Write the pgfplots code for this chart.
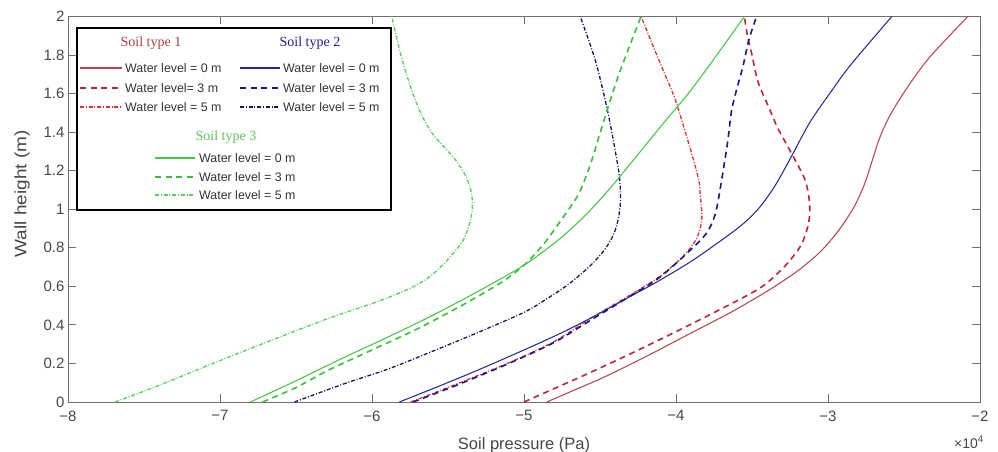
\documentclass[border=0pt]{standalone}
\usepackage{pgfplots}
\pgfplotsset{compat=1.18}
\usepackage{fontspec}
\setmainfont{Liberation Sans}
\newfontfamily\titlefont{Liberation Serif}
\newfontfamily\ylabfont[FakeStretch=1.15]{Liberation Sans}

\definecolor{r1}{RGB}{178,72,72}
\definecolor{r2}{RGB}{185,40,55}
\definecolor{r3}{RGB}{222,50,50}
\definecolor{b1}{RGB}{40,40,150}
\definecolor{b2}{RGB}{25,25,130}
\definecolor{b3}{RGB}{20,20,100}
\definecolor{g1}{RGB}{70,195,70}
\definecolor{g2}{RGB}{60,190,60}
\definecolor{g3}{RGB}{90,205,90}
\definecolor{axisgray}{RGB}{110,110,110}
\definecolor{t1}{RGB}{175,60,60}
\definecolor{t2}{RGB}{30,30,140}
\definecolor{t3}{RGB}{90,200,90}

\tikzset{
  solidl/.style={line width=1.05pt},
  dashedl/.style={line width=1.6pt, dash pattern=on 6pt off 4.5pt},
  dashdotl/.style={line width=1.3pt, dash pattern=on 4pt off 1.8pt on 1pt off 1.8pt}
}

\begin{document}
\begin{tikzpicture}[x=1pt,y=1pt]
\useasboundingbox (-68,-50) rectangle (930,402);
\begin{axis}[
  at={(0,0)}, anchor=south west,
  scale only axis, width=912pt, height=385.5pt,
  xmin=-8, xmax=-2, ymin=0, ymax=2,
  xtick={-8,-7,-6,-5,-4,-3,-2},
  xticklabels={−8,−7,−6,−5,−4,−3,−2},
  ytick={0,0.2,0.4,0.6,0.8,1,1.2,1.4,1.6,1.8,2},
  yticklabels={0,0.2,0.4,0.6,0.8,1,1.2,1.4,1.6,1.8,2},
  tick align=inside, major tick length=8pt,
  axis line style={axisgray, line width=0.8pt},
  tick style={axisgray, line width=0.8pt},
  ticklabel style={font=\fontsize{15}{18}\selectfont, text=black!72},
  xticklabel style={yshift=-5pt},
  xlabel={Soil pressure (Pa)},
  xlabel style={font=\fontsize{16.5}{19}\selectfont, text=black!72,
    at={(axis description cs:0.5,0)}, anchor=base, yshift=-47pt},
  ylabel={Wall height (m)},
  ylabel style={font=\ylabfont\fontsize{16.5}{19}\selectfont, text=black!72,
    at={(axis description cs:-0.0504,0.54)}, anchor=center},
]
% Soil type 1
\addplot[r1, solidl, smooth] coordinates {
(-4.85,0) (-4.66,0.065) (-4.47,0.13) (-4.2,0.235) (-3.92,0.35) (-3.64,0.465) (-3.40,0.575) (-3.20,0.68) (-3.05,0.78) (-2.93,0.89) (-2.83,1.01) (-2.76,1.13) (-2.71,1.25) (-2.66,1.37) (-2.59,1.49) (-2.48,1.63) (-2.33,1.79) (-2.08,2.0)};
\addplot[r2, dashedl, smooth] coordinates {
(-5.0,0) (-4.8,0.07) (-4.6,0.14) (-4.3,0.25) (-4.0,0.365) (-3.76,0.46) (-3.45,0.59) (-3.29,0.70) (-3.18,0.81) (-3.13,0.92) (-3.12,1.02) (-3.15,1.15) (-3.24,1.29) (-3.33,1.42) (-3.39,1.53) (-3.46,1.66) (-3.50,1.80) (-3.53,1.90) (-3.55,2.0)};
\addplot[r3, dashdotl, smooth] coordinates {
(-5.745,0) (-5.46,0.088) (-5.11,0.2) (-4.81,0.31) (-4.56,0.435) (-4.29,0.56) (-4.11,0.65) (-3.96,0.75) (-3.87,0.84) (-3.835,0.92) (-3.83,0.98) (-3.84,1.07) (-3.85,1.15) (-3.89,1.27) (-3.95,1.43) (-4.01,1.58) (-4.10,1.75) (-4.23,2.0)};
% Soil type 2
\addplot[b1, solidl, smooth] coordinates {
(-5.82,0) (-5.55,0.085) (-5.29,0.17) (-5.0,0.27) (-4.75,0.36) (-4.55,0.44) (-4.33,0.535) (-4.11,0.63) (-3.89,0.735) (-3.67,0.857) (-3.55,0.93) (-3.45,1.01) (-3.35,1.12) (-3.25,1.26) (-3.12,1.45) (-2.98,1.61) (-2.85,1.75) (-2.58,2.0)};
\addplot[b2, dashedl, smooth] coordinates {
(-5.73,0) (-5.45,0.085) (-5.1,0.2) (-4.8,0.31) (-4.55,0.43) (-4.29,0.555) (-4.11,0.645) (-3.93,0.77) (-3.80,0.875) (-3.74,0.98) (-3.70,1.15) (-3.66,1.35) (-3.63,1.53) (-3.56,1.74) (-3.52,1.88) (-3.47,2.0)};
\addplot[b3, dashdotl, smooth] coordinates {
(-6.51,0) (-6.2,0.09) (-5.88,0.175) (-5.55,0.28) (-5.29,0.365) (-5.0,0.465) (-4.85,0.535) (-4.70,0.615) (-4.56,0.71) (-4.47,0.79) (-4.41,0.87) (-4.38,0.95) (-4.365,1.04) (-4.37,1.15) (-4.39,1.26) (-4.45,1.51) (-4.53,1.77) (-4.63,2.0)};
% Soil type 3
\addplot[g1, solidl, smooth] coordinates {
(-6.80,0) (-6.5,0.11) (-6.2,0.225) (-5.9,0.335) (-5.6,0.45) (-5.3,0.575) (-5.0,0.71) (-4.76,0.85) (-4.57,0.99) (-4.39,1.15) (-4.10,1.43) (-3.88,1.64) (-3.55,2.0)};
\addplot[g2, dashedl, smooth] coordinates {
(-6.72,0) (-6.5,0.075) (-6.30,0.16) (-6.0,0.27) (-5.70,0.38) (-5.40,0.505) (-5.15,0.62) (-5.0,0.71) (-4.87,0.82) (-4.75,0.95) (-4.64,1.08) (-4.56,1.24) (-4.49,1.42) (-4.38,1.69) (-4.23,2.0)};
\addplot[g3, dashdotl, smooth] coordinates {
(-7.69,0) (-7.39,0.09) (-7.0,0.215) (-6.63,0.33) (-6.30,0.43) (-5.95,0.525) (-5.75,0.59) (-5.62,0.65) (-5.50,0.74) (-5.40,0.84) (-5.35,0.95) (-5.34,1.05) (-5.37,1.15) (-5.45,1.255) (-5.60,1.39) (-5.68,1.50) (-5.74,1.62) (-5.81,1.80) (-5.87,2.0)};
\end{axis}
% legend box
\draw[black, line width=1.4pt, fill=white] (9,192) rectangle (323,374);
\begin{scope}[every node/.style={anchor=west, inner sep=0pt, text=black!80, font=\fontsize{12.4}{14}\selectfont}]
\node[anchor=center, text=t1, font=\titlefont\fontsize{14}{16}\selectfont] at (83,359) {Soil type 1};
\node[anchor=center, text=t2, font=\titlefont\fontsize{14}{16}\selectfont] at (242,359) {Soil type 2};
\node[anchor=center, text=t3, font=\titlefont\fontsize{14}{16}\selectfont] at (158,265) {Soil type 3};
% type 1
\draw[r1, line width=1.3pt] (12,334) -- (54,334); \node at (57,334) {Water level = 0 m};
\draw[r2, dashedl] (12,314) -- (54,314); \node at (57,314) {Water level= 3 m};
\draw[r3, dashdotl] (12,295) -- (54,295); \node at (57,295) {Water level = 5 m};
% type 2
\draw[b1, line width=1.3pt] (172,334) -- (212,334); \node at (215,334) {Water level = 0 m};
\draw[b2, dashedl] (172,314) -- (212,314); \node at (215,314) {Water level = 3 m};
\draw[b3, dashdotl] (172,295) -- (212,295); \node at (215,295) {Water level = 5 m};
% type 3
\draw[g1, line width=1.3pt] (87,244) -- (127,244); \node at (131,244) {Water level = 0 m};
\draw[g2, dashedl] (87,225) -- (127,225); \node at (131,225) {Water level = 3 m};
\draw[g3, dashdotl] (87,207) -- (127,207); \node at (131,207) {Water level = 5 m};
\end{scope}
\node[anchor=base east, inner sep=0pt, text=black!72, font=\fontsize{14}{16}\selectfont] at (916,-46) {×10\textsuperscript{4}};
\end{tikzpicture}
\end{document}
